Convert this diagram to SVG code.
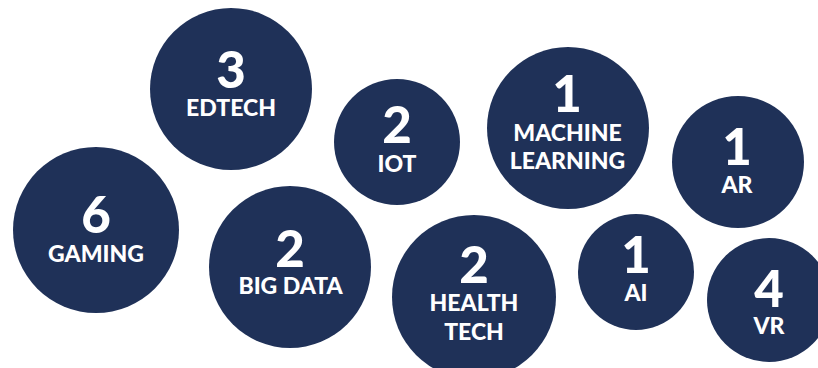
<svg xmlns="http://www.w3.org/2000/svg" width="818" height="368" viewBox="0 0 818 368">
<style>
.c{fill:#1f3158}
text{font-family:Lato,"Liberation Sans",sans-serif;font-weight:900;fill:#fff;text-anchor:middle}
.n{font-size:51px}
.l{font-size:23px}
</style>
<rect width="818" height="368" fill="#fff"/>
<g id="edtech"><circle class="c" cx="231" cy="89" r="81"/><text><tspan class="n" x="231" y="88">3</tspan><tspan class="l" x="231" y="116">EDTECH</tspan></text></g>
<g id="iot"><circle class="c" cx="397" cy="142" r="63"/><text><tspan class="n" x="397" y="143">2</tspan><tspan class="l" x="397" y="172">IOT</tspan></text></g>
<g id="ml"><circle class="c" cx="568" cy="128" r="81"/><text><tspan class="n" x="567" y="111.5">1</tspan><tspan class="l" x="567.5" y="140.5">MACHINE</tspan><tspan class="l" x="567.5" y="169">LEARNING</tspan></text></g>
<g id="ar"><circle class="c" cx="738" cy="162" r="66"/><text><tspan class="n" x="737" y="165">1</tspan><tspan class="l" x="737" y="193">AR</tspan></text></g>
<g id="gaming"><circle class="c" cx="96" cy="230" r="83"/><text><tspan class="n" x="96" y="233">6</tspan><tspan class="l" x="96" y="262">GAMING</tspan></text></g>
<g id="bigdata"><circle class="c" cx="290" cy="267" r="81"/><text><tspan class="n" x="290" y="266.5">2</tspan><tspan class="l" x="290.5" y="294">BIG DATA</tspan></text></g>
<g id="healthtech"><circle class="c" cx="474" cy="297" r="82"/><text><tspan class="n" x="474" y="283">2</tspan><tspan class="l" x="474" y="311">HEALTH</tspan><tspan class="l" x="474" y="340">TECH</tspan></text></g>
<g id="ai"><circle class="c" cx="636" cy="272" r="58"/><text><tspan class="n" x="636" y="272.5">1</tspan><tspan class="l" x="636" y="301">AI</tspan></text></g>
<g id="vr"><circle class="c" cx="769" cy="300" r="62"/><text><tspan class="n" x="769" y="306.5">4</tspan><tspan class="l" x="769" y="334">VR</tspan></text></g>
<g id="connectors"></g>
</svg>
